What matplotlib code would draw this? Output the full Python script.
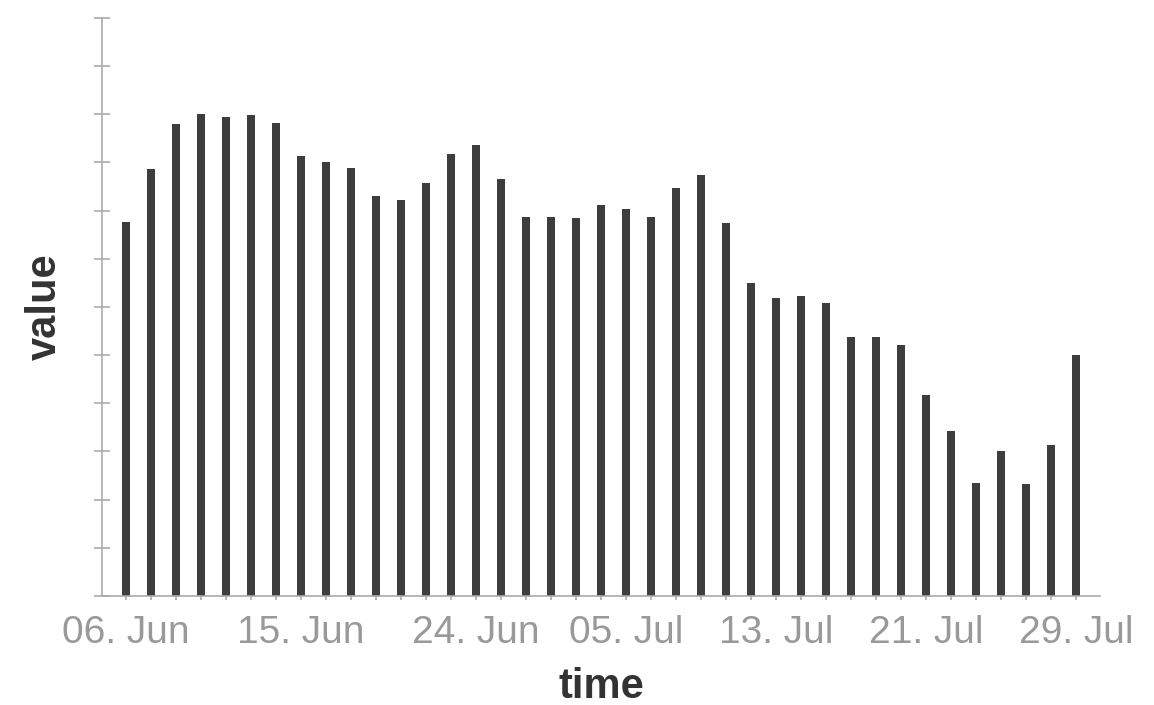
import matplotlib
matplotlib.use("Agg")
from matplotlib import pyplot as plt
import numpy as np

# bar heights (axis runs 0..120, unlabeled)
values = [77.7, 88.6, 97.9, 100.0, 99.4, 99.8, 98.3, 91.3, 90.0, 88.8,
          83.1, 82.2, 85.7, 91.8, 93.6, 86.6, 78.7, 78.7, 78.4, 81.2,
          80.3, 78.7, 84.8, 87.5, 77.4, 64.9, 61.9, 62.3, 60.9, 53.8,
          53.8, 52.1, 41.7, 34.3, 23.5, 30.0, 23.3, 31.3, 50.0]
tick_index = [0, 7, 14, 20, 26, 32, 38]
tick_labels = ["06. Jun", "15. Jun", "24. Jun", "05. Jul", "13. Jul", "21. Jul", "29. Jul"]
y_ticks = list(range(0, 121, 10))

plt.rcParams["font.family"] = ["Liberation Sans", "DejaVu Sans"]

fig = plt.figure(figsize=(11.54, 7.05), dpi=100)
ax = fig.add_axes([0.0884, 0.1546, 0.8648, 0.8199])

x = np.arange(len(values))
ax.bar(x, values, width=0.34, color="#3d3d3d")

ax.set_xlim(-0.96, 38.96)
ax.set_ylim(0, 120)

for side in ["top", "right"]:
    ax.spines[side].set_visible(False)
for side in ["left", "bottom"]:
    ax.spines[side].set_color("#aaaaaa")
    ax.spines[side].set_linewidth(1.2)

ax.set_yticks(y_ticks)
ax.set_yticklabels([])
ax.tick_params(axis="y", direction="inout", length=12, width=1.2, color="#aaaaaa")

ax.set_xticks(tick_index)
ax.set_xticklabels(tick_labels)
ax.set_xticks(x, minor=True)
ax.tick_params(axis="x", which="both", direction="out", length=3, width=1.2,
               color="#aaaaaa", labelcolor="#999999", labelsize=28, pad=11)

ax.set_xlabel("time", fontsize=30, fontweight="bold", color="#333333", labelpad=11)
ax.set_ylabel("value", fontsize=30, fontweight="bold", color="#333333", labelpad=17)

fig.savefig("out.png", dpi=100)
